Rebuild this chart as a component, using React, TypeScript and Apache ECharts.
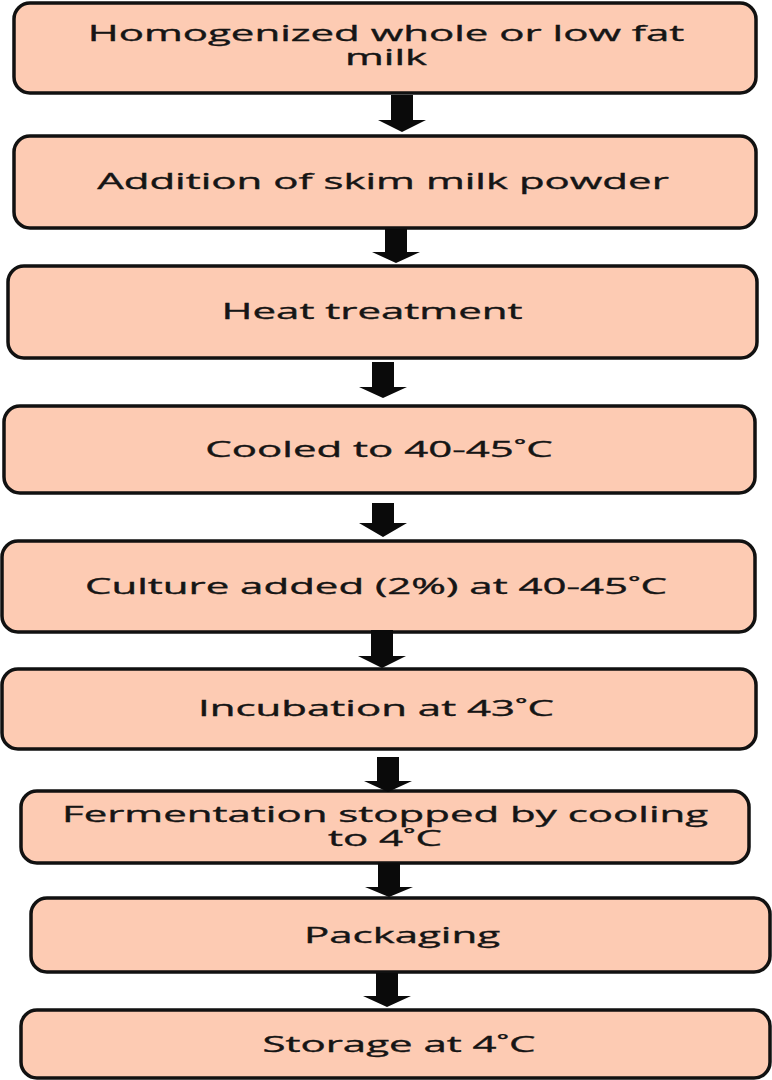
import React, { useEffect, useRef } from "react";
import * as echarts from "echarts";

// Flowchart steps (text)
const steps: string[][] = [
  ["Homogenized whole or low fat", "milk"],
  ["Addition of skim milk powder"],
  ["Heat treatment"],
  ["Cooled to 40-45˚C"],
  ["Culture added (2%) at 40-45˚C"],
  ["Incubation at 43˚C"],
  ["Fermentation stopped by cooling", "to 4˚C"],
  ["Packaging"],
  ["Storage at 4˚C"],
];

// Layout (pixels): box left, right, top, bottom
const boxLeft = [14, 14, 8, 4, 2, 2, 21, 31, 21];
const boxRight = [756, 756, 757, 755, 755, 756, 749, 770, 770];
const boxTop = [3, 136, 266, 406, 541, 669, 791, 898, 1010];
const boxBottom = [93, 228, 358, 493, 632, 749, 863, 972, 1078];
const textCenterX = [386, 383, 372, 379, 376, 376, 385, 402, 399];
const textOffsetY = [-3, -1, -1, 0, 0, -1, -1, 0, 0];

// Arrows: center x, shaft top, head start, tip
const arrowX = [402, 396, 383, 383, 382, 388, 389, 387];
const arrowTop = [95, 229, 362, 503, 630, 757, 863, 973];
const arrowHead = [120, 252, 387, 523, 656, 781, 887, 996];
const arrowTip = [132, 263, 398, 537, 668, 792, 897, 1007];

const FILL = "#FDCBB3";
const STROKE = "#111111";
const FONT_SIZE = 21;
const SCALE_X = 2.0;
const LINE_H = 24;

export default function App() {
  const ref = useRef<HTMLDivElement>(null);
  useEffect(() => {
    document.body.style.margin = "0";
    if (!ref.current) return;
    const chart = echarts.init(ref.current, null, { renderer: "svg" });
    const elements: any[] = [];
    steps.forEach((lines, i) => {
      const x0 = boxLeft[i], x1 = boxRight[i], y0 = boxTop[i], y1 = boxBottom[i];
      elements.push({
        type: "rect",
        shape: { x: x0, y: y0, width: x1 - x0, height: y1 - y0, r: 16 },
        style: { fill: FILL, stroke: STROKE, lineWidth: 3.5 },
      });
      const cy = (y0 + y1) / 2 + textOffsetY[i];
      const n = lines.length;
      lines.forEach((t, k) => {
        elements.push({
          type: "text",
          x: textCenterX[i],
          y: cy + (k - (n - 1) / 2) * LINE_H,
          scaleX: SCALE_X,
          style: {
            text: t,
            x: 0,
            y: 0,
            fill: "#151515",
            stroke: "#151515",
            lineWidth: 0.35,
            font: `${FONT_SIZE}px "Open Sans", sans-serif`,
            textAlign: "center",
            textVerticalAlign: "middle",
          },
        });
      });
    });
    arrowX.forEach((cx, i) => {
      const sw = 11, hw = 24;
      elements.push({
        type: "polygon",
        shape: {
          points: [
            [cx - sw, arrowTop[i]],
            [cx + sw, arrowTop[i]],
            [cx + sw, arrowHead[i]],
            [cx + hw, arrowHead[i]],
            [cx, arrowTip[i]],
            [cx - hw, arrowHead[i]],
            [cx - sw, arrowHead[i]],
          ],
        },
        style: { fill: "#0a0a0a" },
      });
    });
    chart.setOption({
      animation: false,
      backgroundColor: "#ffffff",
      graphic: { elements },
    });
    return () => chart.dispose();
  }, []);
  return <div ref={ref} style={{ width: 772, height: 1080 }} />;
}
